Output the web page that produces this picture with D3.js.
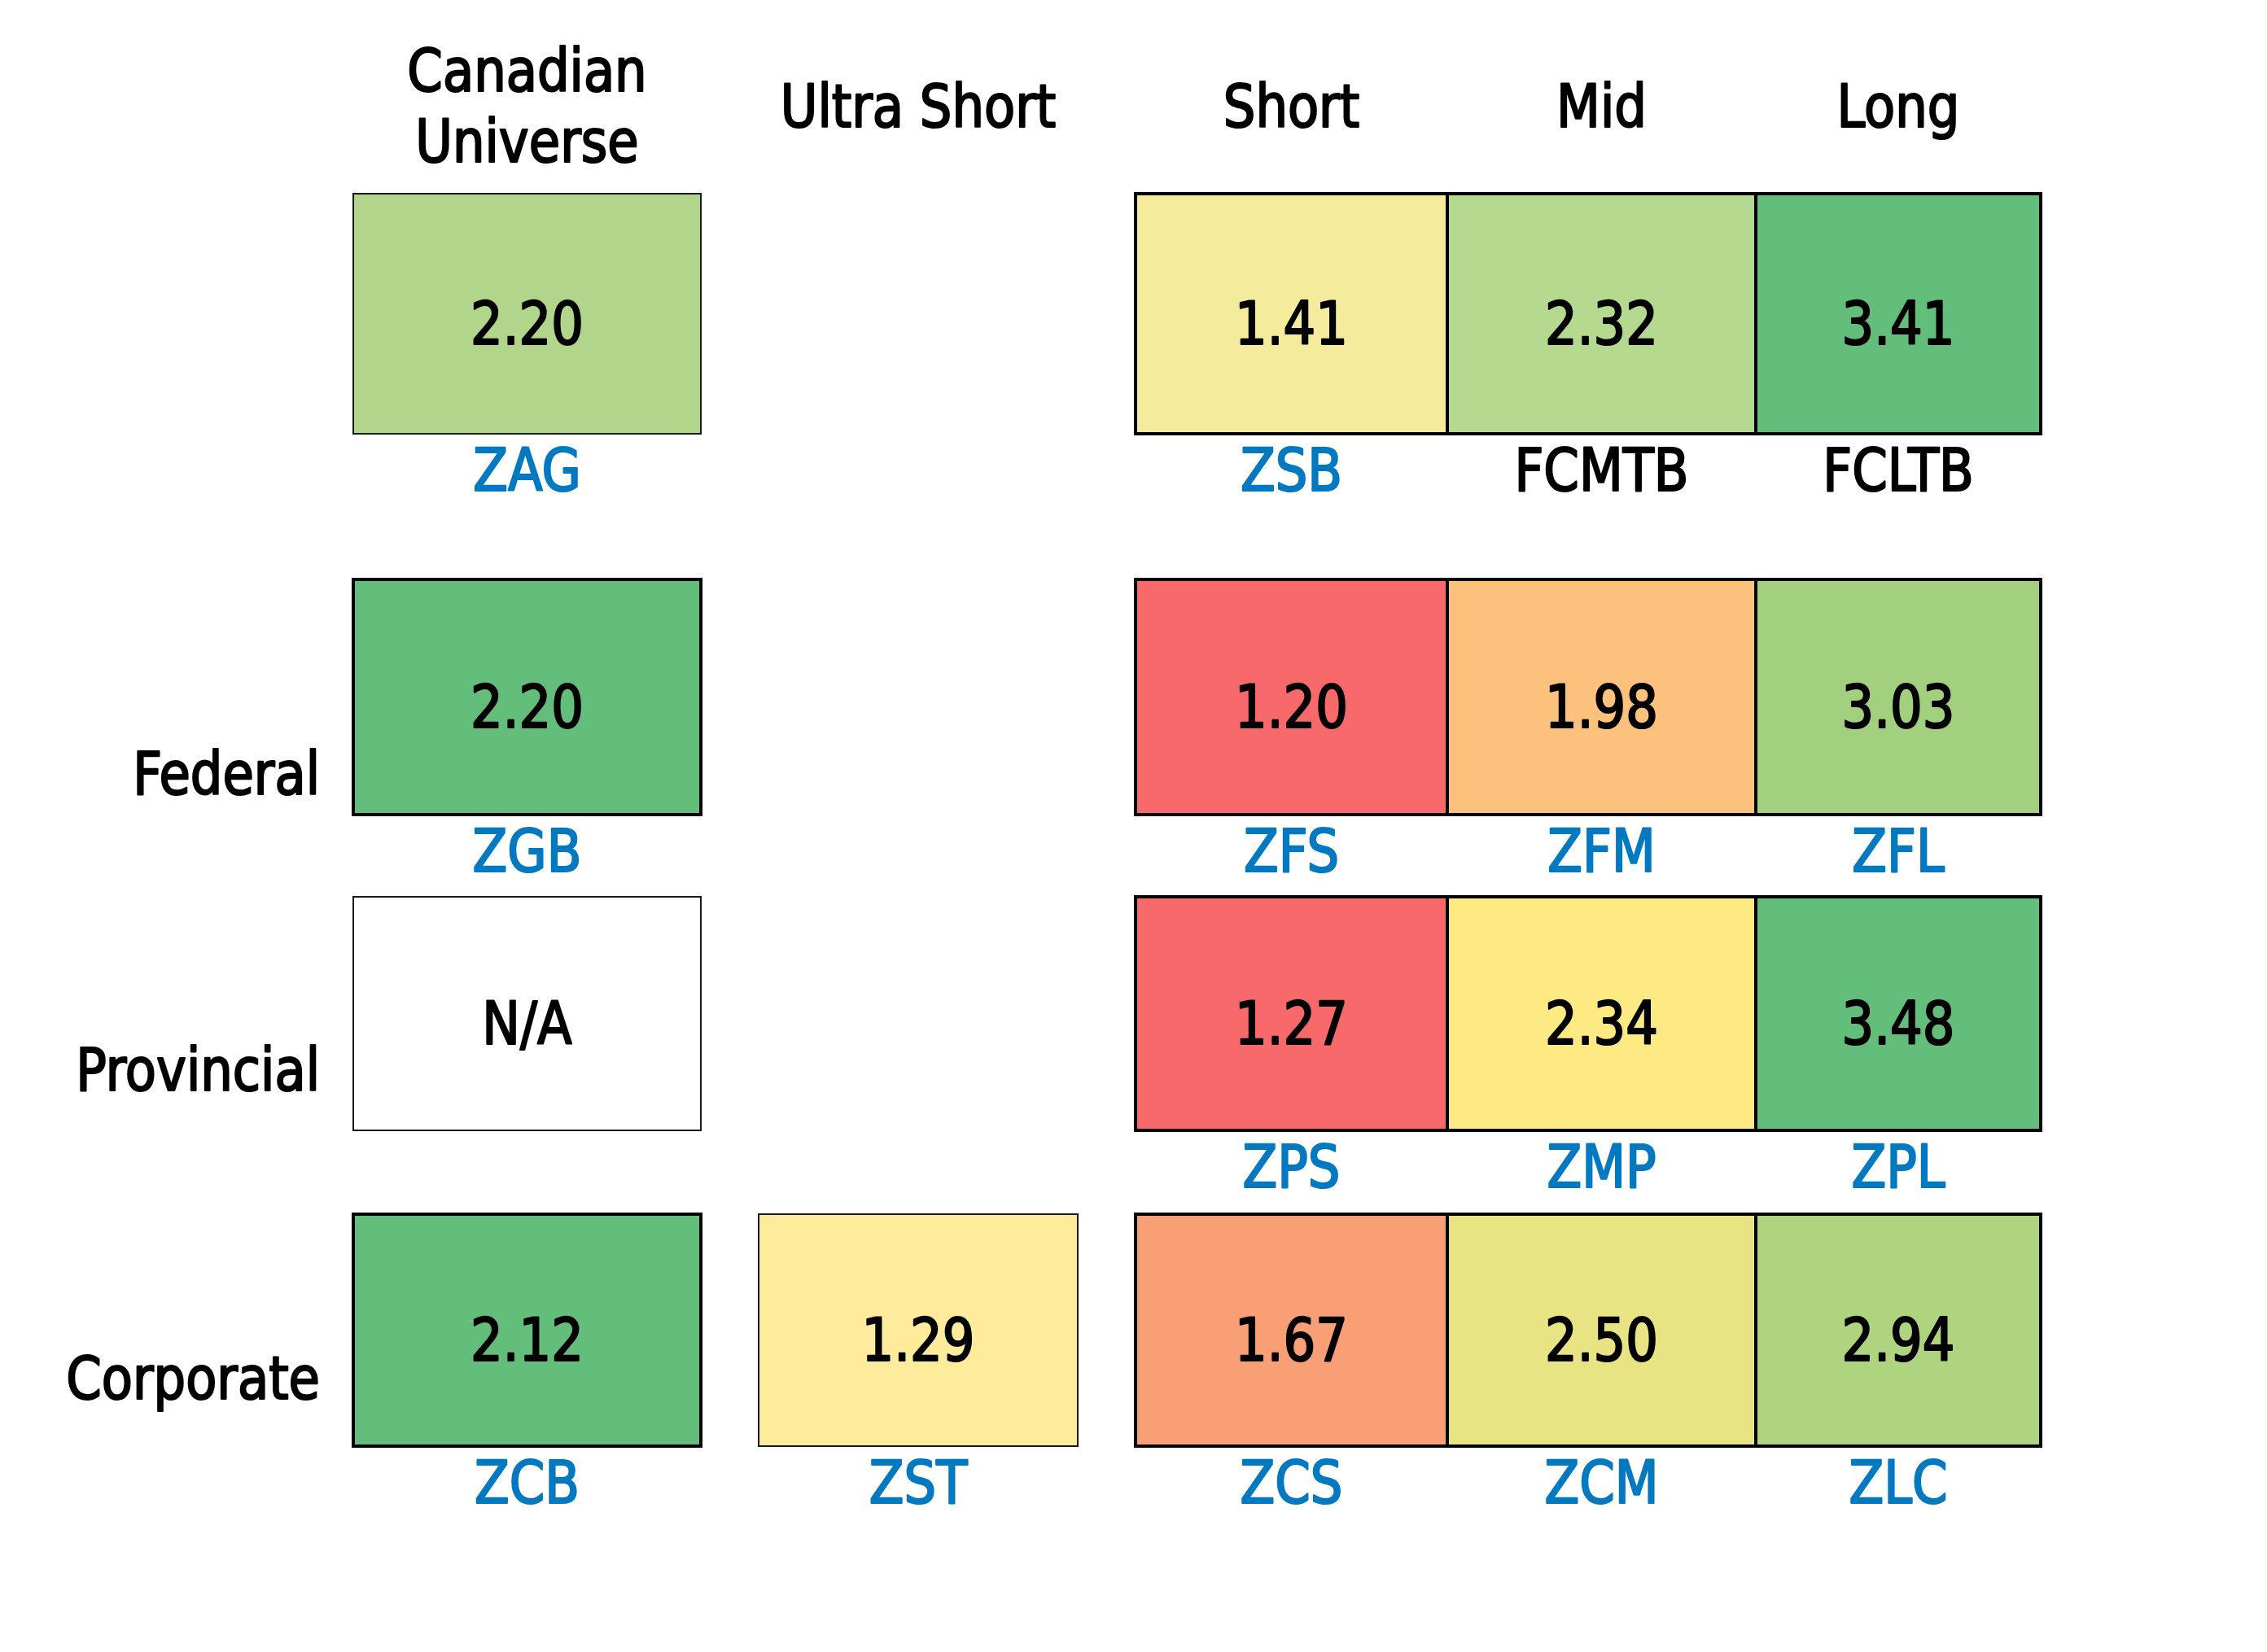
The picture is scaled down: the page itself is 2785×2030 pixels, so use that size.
<!DOCTYPE html>
<html>
<head>
<meta charset="utf-8">
<script src="https://cdn.jsdelivr.net/npm/d3@7"></script>
<style>
  html, body { margin: 0; padding: 0; background: #ffffff; }
  svg { display: block; }
  text { font-family: "DejaVu Sans Condensed", "DejaVu Sans", sans-serif; font-stretch: condensed; }
</style>
</head>
<body>
<svg id="chart" width="2785" height="2030"></svg>
<script>
// ---------------- data ----------------
const columns = ["Canadian Universe", "Ultra Short", "Short", "Mid", "Long"];
const rows = ["All", "Federal", "Provincial", "Corporate"];
const rowLabels = ["", "Federal", "Provincial", "Corporate"];

// yields per row, per column (null = no fund)
const valuesAll        = [2.20, null, 1.41, 2.32, 3.41];
const valuesFederal    = [2.20, null, 1.20, 1.98, 3.03];
const valuesProvincial = ["N/A", null, 1.27, 2.34, 3.48];
const valuesCorporate  = [2.12, 1.29, 1.67, 2.50, 2.94];

const tickersAll        = ["ZAG", null, "ZSB", "FCMTB", "FCLTB"];
const tickersFederal    = ["ZGB", null, "ZFS", "ZFM", "ZFL"];
const tickersProvincial = ["", null, "ZPS", "ZMP", "ZPL"];
const tickersCorporate  = ["ZCB", "ZST", "ZCS", "ZCM", "ZLC"];

const otherProviderTickers = ["FCMTB", "FCLTB"];

// ---------------- styles ----------------
const fillsAll        = ["#b1d68b", null, "#f4ec9c", "#b5d98f", "#63be7b"];
const fillsFederal    = ["#63be7b", null, "#f8696b", "#fbc17d", "#a2d07f"];
const fillsProvincial = ["#ffffff", null, "#f8696b", "#feea83", "#63be7b"];
const fillsCorporate  = ["#63be7b", "#feeb9b", "#f99f75", "#e8e484", "#aed47f"];

const thinAll        = [true, false, false, false, false];
const thinFederal    = [false, false, false, false, false];
const thinProvincial = [true, false, false, false, false];
const thinCorporate  = [false, true, false, false, false];

const values  = [valuesAll, valuesFederal, valuesProvincial, valuesCorporate];
const tickers = [tickersAll, tickersFederal, tickersProvincial, tickersCorporate];
const fills   = [fillsAll, fillsFederal, fillsProvincial, fillsCorporate];
const thins   = [thinAll, thinFederal, thinProvincial, thinCorporate];

// ---------------- layout ----------------
const colLeft  = d3.scaleOrdinal().domain(columns).range([434, 932, 1395, 1778, 2157]);
const colRight = d3.scaleOrdinal().domain(columns).range([861, 1324, 1778, 2157, 2507]);
const rowTop    = d3.scaleOrdinal().domain(rows).range([238, 712, 1102, 1492]);
const rowBottom = d3.scaleOrdinal().domain(rows).range([533, 1001, 1389, 1777]);
const rowLabelBaseline = d3.scaleOrdinal().domain(rows).range([0, 976, 1340, 1719]);

const labelRight = 393;
const headerMid = 155.5;
const headerLineGap = 87;
const fontSize = 73;
const squeeze = 0.95;     // narrower glyphs, like the condensed original face
const weightStroke = 2.2; // thicker strokes, like the medium original face
const blue = "#0079c1";

const cells = [];
rows.forEach((r, ri) => {
  columns.forEach((c, ci) => {
    if (values[ri][ci] === null) return;
    cells.push({
      row: r, col: c,
      value: values[ri][ci],
      ticker: tickers[ri][ci],
      fill: fills[ri][ci],
      thin: thins[ri][ci]
    });
  });
});

const svg = d3.select("#chart");

// helper: place a text at (x,y) with horizontal squeeze and stroke for weight
function styleText(sel, color) {
  return sel
    .attr("font-size", fontSize)
    .attr("fill", color)
    .attr("stroke", color)
    .attr("stroke-width", weightStroke)
    .attr("stroke-linejoin", "round");
}
const place = (x, y) => `translate(${x},${y}) scale(${squeeze},1)`;

// column headers
const hdr = svg.append("g").selectAll("g")
  .data(columns).join("g")
  .attr("transform", c => place((colLeft(c) + colRight(c)) / 2, headerMid));
hdr.each(function(c) {
  const words = c === "Canadian Universe" ? ["Canadian", "Universe"] : [c];
  words.forEach((w, i) => {
    styleText(d3.select(this).append("text"), "#000")
      .attr("text-anchor", "middle")
      .attr("y", (i - (words.length - 1) / 2) * headerLineGap)
      .text(w);
  });
});

// row labels
styleText(svg.append("g").selectAll("text")
  .data(rows.filter((r, i) => rowLabels[i] !== ""))
  .join("text"), "#000")
  .attr("text-anchor", "end")
  .attr("transform", r => place(labelRight, rowLabelBaseline(r)))
  .text(r => rowLabels[rows.indexOf(r)]);

// cells: thin boxes first, thick on top
const sorted = cells.slice().sort((a, b) => (b.thin ? 1 : 0) - (a.thin ? 1 : 0));
svg.append("g").selectAll("rect")
  .data(sorted).join("rect")
  .attr("x", d => colLeft(d.col))
  .attr("y", d => rowTop(d.row))
  .attr("width", d => colRight(d.col) - colLeft(d.col))
  .attr("height", d => rowBottom(d.row) - rowTop(d.row))
  .attr("fill", d => d.fill)
  .attr("stroke", d => d.thin ? "#1a1a1a" : "#000")
  .attr("stroke-width", d => d.thin ? 2 : 4);

// values
styleText(svg.append("g").selectAll("text")
  .data(cells).join("text"), "#000")
  .attr("text-anchor", "middle")
  .attr("transform", d => place((colLeft(d.col) + colRight(d.col)) / 2,
                                (rowTop(d.row) + rowBottom(d.row)) / 2 + 37))
  .text(d => typeof d.value === "number" ? d3.format(".2f")(d.value) : d.value);

// tickers
const tk = svg.append("g").selectAll("text")
  .data(cells.filter(d => d.ticker)).join("text")
  .attr("text-anchor", "middle")
  .attr("font-size", fontSize)
  .attr("stroke-width", weightStroke)
  .attr("stroke-linejoin", "round")
  .attr("fill", d => otherProviderTickers.includes(d.ticker) ? "#000" : blue)
  .attr("stroke", d => otherProviderTickers.includes(d.ticker) ? "#000" : blue)
  .attr("transform", d => place((colLeft(d.col) + colRight(d.col)) / 2, rowBottom(d.row) + 70))
  .text(d => d.ticker);
</script>
</body>
</html>
